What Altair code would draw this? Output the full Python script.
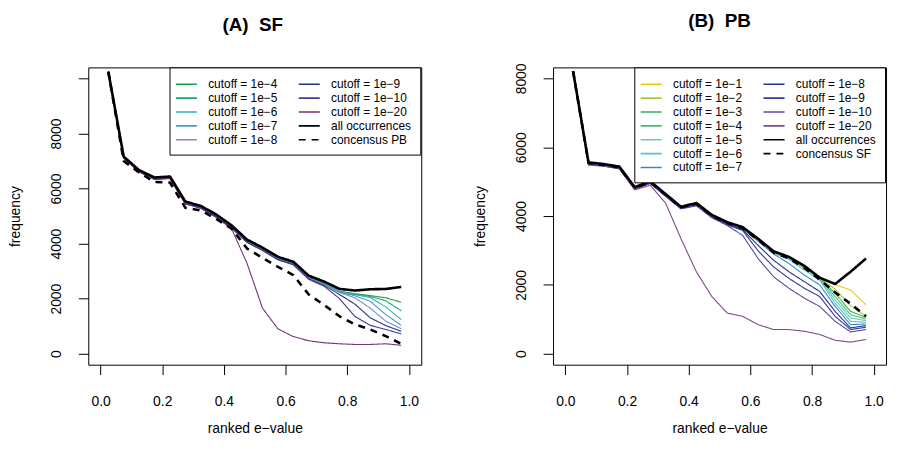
import altair as alt
import pandas as pd

# ---------------- data ----------------
x_vals = [0.025, 0.075, 0.125, 0.175, 0.225, 0.275, 0.325, 0.375, 0.425, 0.475,
          0.525, 0.575, 0.625, 0.675, 0.725, 0.775, 0.825, 0.875, 0.925, 0.975]

# Panel A (SF)
sf_series = ["cutoff = 1e\u22124", "cutoff = 1e\u22125", "cutoff = 1e\u22126", "cutoff = 1e\u22127",
             "cutoff = 1e\u22128", "cutoff = 1e\u22129", "cutoff = 1e\u221210", "cutoff = 1e\u221220",
             "concensus PB", "all occurrences"]
sf_colors = ["#1e9e4e", "#22a56c", "#30b5b2", "#4a98c8", "#7d8cc6", "#283180", "#473c8c", "#74337a",
             "black", "black"]
sf_1e4 = [10245, 7140, 6640, 6370, 6400, 5480, 5330, 5010, 4610, 4100, 3810, 3470, 3290, 2790, 2570, 2270, 2180, 2110, 2030, 1870]
sf_1e5 = [10245, 7135, 6635, 6365, 6395, 5475, 5320, 5000, 4600, 4090, 3800, 3460, 3280, 2780, 2560, 2260, 2160, 2080, 1920, 1560]
sf_1e6 = [10245, 7130, 6630, 6360, 6390, 5470, 5315, 4995, 4595, 4080, 3790, 3450, 3270, 2770, 2550, 2250, 2140, 2040, 1700, 1240]
sf_1e7 = [10245, 7125, 6625, 6355, 6385, 5465, 5310, 4990, 4590, 4070, 3780, 3440, 3260, 2760, 2530, 2240, 2100, 1900, 1420, 1030]
sf_1e8 = [10245, 7120, 6620, 6350, 6380, 5460, 5300, 4980, 4580, 4060, 3770, 3430, 3250, 2740, 2510, 2220, 2030, 1650, 1180, 910]
sf_1e9 = [10245, 7115, 6615, 6345, 6375, 5455, 5295, 4970, 4570, 4050, 3760, 3420, 3240, 2720, 2480, 2150, 1800, 1300, 1020, 815]
sf_1e10 = [10245, 7110, 6610, 6340, 6370, 5450, 5290, 4960, 4560, 4040, 3750, 3410, 3230, 2700, 2450, 2000, 1350, 1030, 880, 720]
sf_1e20 = [10245, 7100, 6600, 6330, 6360, 5440, 5280, 4950, 4540, 3280, 1656, 905, 620, 470, 396, 360, 336, 336, 360, 305]
sf_consensus = [10245, 7000, 6580, 6241, 6218, 5300, 5200, 4900, 4540, 3820, 3483, 3158, 2857, 2150, 1770, 1357, 1065, 877, 637, 360]
sf_all = [10245, 7158, 6666, 6401, 6437, 5525, 5369, 5056, 4660, 4143, 3855, 3519, 3339, 2834, 2618, 2354, 2294, 2342, 2350, 2426]
sf_values = [sf_1e4, sf_1e5, sf_1e6, sf_1e7, sf_1e8, sf_1e9, sf_1e10, sf_1e20, sf_consensus, sf_all]

# Panel B (PB)
pb_series = ["cutoff = 1e\u22121", "cutoff = 1e\u22122", "cutoff = 1e\u22123", "cutoff = 1e\u22124",
             "cutoff = 1e\u22125", "cutoff = 1e\u22126", "cutoff = 1e\u22127", "cutoff = 1e\u22128",
             "cutoff = 1e\u22129", "cutoff = 1e\u221210", "cutoff = 1e\u221220",
             "concensus SF", "all occurrences"]
pb_colors = ["#f5c400", "#a8cb3c", "#38ad5e", "#40bd7a", "#6ccd9e", "#4fc4d4", "#3a88c8", "#26338a",
             "#2e3b98", "#5a48a2", "#7c4a8c", "black", "black"]
pb_1e1 = [8211, 5545, 5495, 5420, 4825, 4995, 4620, 4255, 4360, 4015, 3805, 3660, 3320, 2960, 2795, 2535, 2200, 2010, 1850, 1420]
pb_1e2 = [8211, 5540, 5490, 5415, 4820, 4990, 4615, 4250, 4355, 4010, 3800, 3655, 3315, 2955, 2790, 2525, 2195, 1880, 1400, 1090]
pb_1e3 = [8211, 5535, 5485, 5410, 4815, 4985, 4610, 4245, 4350, 4005, 3795, 3650, 3310, 2950, 2785, 2515, 2190, 1757, 1229, 1056]
pb_1e4 = [8211, 5530, 5480, 5405, 4810, 4980, 4605, 4240, 4345, 4000, 3790, 3645, 3305, 2945, 2775, 2505, 2180, 1661, 1133, 1008]
pb_1e5 = [8211, 5525, 5475, 5400, 4805, 4975, 4600, 4235, 4340, 3995, 3785, 3640, 3300, 2935, 2760, 2490, 2170, 1565, 1037, 960]
pb_1e6 = [8211, 5520, 5470, 5395, 4800, 4970, 4595, 4230, 4335, 3990, 3780, 3635, 3290, 2930, 2740, 2430, 2142, 1469, 941, 912]
pb_1e7 = [8211, 5515, 5465, 5390, 4795, 4965, 4590, 4225, 4330, 3985, 3775, 3625, 3270, 2900, 2622, 2286, 1998, 1373, 845, 864]
pb_1e8 = [8211, 5510, 5460, 5385, 4790, 4960, 4585, 4220, 4320, 3975, 3760, 3600, 3150, 2718, 2382, 2094, 1806, 1229, 749, 816]
pb_1e9 = [8211, 5505, 5455, 5380, 4785, 4955, 4580, 4215, 4310, 3965, 3745, 3580, 2990, 2526, 2190, 1902, 1661, 1085, 701, 768]
pb_1e10 = [8211, 5500, 5450, 5375, 4780, 4950, 4575, 4210, 4300, 3950, 3726, 3438, 2766, 2238, 1902, 1614, 1373, 941, 634, 701]
pb_1e20 = [8211, 5480, 5450, 5377, 4762, 4897, 4379, 3341, 2380, 1661, 1181, 1085, 845, 701, 701, 653, 557, 390, 336, 413]
pb_consensus = [8211, 5540, 5490, 5415, 4820, 4990, 4620, 4255, 4355, 4010, 3800, 3650, 3310, 2940, 2770, 2500, 2150, 1780, 1450, 1090]
pb_all = [8211, 5560, 5510, 5436, 4840, 5013, 4639, 4270, 4379, 4034, 3822, 3678, 3342, 2977, 2814, 2555, 2209, 2026, 2382, 2766]
pb_values = [pb_1e1, pb_1e2, pb_1e3, pb_1e4, pb_1e5, pb_1e6, pb_1e7, pb_1e8, pb_1e9, pb_1e10, pb_1e20,
             pb_consensus, pb_all]

x_ticks = [0.0, 0.2, 0.4, 0.6, 0.8, 1.0]
sf_y_ticks = [0, 2000, 4000, 6000, 8000, 10000]
pb_y_ticks = [0, 2000, 4000, 6000, 8000]

FONT = "Liberation Sans"


def long_df(names, values):
    rows = []
    for n, vals in zip(names, values):
        for i, (xv, yv) in enumerate(zip(x_vals, vals)):
            rows.append({"series": n, "x": xv, "y": yv, "i": i})
    return pd.DataFrame(rows)


def panel(names, values, colors, ydomain, yticks, title, title_dx):
    df = long_df(names, values)
    cutoffs = [n for n in names if n.startswith("cutoff")]
    cons = [n for n in names if n.startswith("concensus")]
    legend_order = cutoffs + ["all occurrences"] + cons  # column-major fill
    cmap = dict(zip(names, colors))
    col_range = [cmap[n] for n in legend_order]
    dash_range = [[7, 6] if n.startswith("concensus") else [1, 0] for n in legend_order]
    leg = alt.Legend(orient="none", legendX=82, legendY=0, columns=2, title=None,
                     strokeColor="black", fillColor="white", padding=9, cornerRadius=0,
                     symbolType="M-1.5,0H1.5", symbolSize=200, labelFont=FONT, labelFontSize=12,
                     labelColor="black", rowPadding=0, columnPadding=18, labelOffset=14,
                     labelLimit=200, symbolStrokeWidth=1.6)
    base = alt.Chart(df).encode(
        x=alt.X("x:Q", scale=alt.Scale(domain=[-0.04, 1.04], nice=False, zero=False),
                axis=alt.Axis(values=x_ticks, format=".1f", title="ranked e\u2212value")),
        y=alt.Y("y:Q", scale=alt.Scale(domain=ydomain, nice=False, zero=False),
                axis=alt.Axis(values=yticks, format="d", title="frequency",
                              labelAngle=270, labelAlign="center", labelBaseline="middle",
                              labelExpr="datum.value > 9000 ? '' : datum.label")),
        color=alt.Color("series:N", scale=alt.Scale(domain=legend_order, range=col_range), legend=leg),
        strokeDash=alt.StrokeDash("series:N", scale=alt.Scale(domain=legend_order, range=dash_range),
                                  legend=leg),
        order=alt.Order("i:Q"),
    )
    thin = base.transform_filter("indexof(datum.series, 'cutoff') == 0").mark_line(
        strokeWidth=1.1, strokeJoin="round")
    dashed = base.transform_filter("indexof(datum.series, 'concensus') == 0").mark_line(
        strokeWidth=2.6, strokeJoin="round")
    solid = base.transform_filter("datum.series == 'all occurrences'").mark_line(
        strokeWidth=2.6, strokeJoin="round")
    chart = alt.layer(thin, dashed, solid).properties(
        width=336, height=300,
        view=alt.ViewBackground(stroke="black", strokeWidth=1),
        title=alt.TitleParams(title, fontSize=19, fontWeight="bold", font=FONT, anchor="middle",
                              frame="group", baseline="alphabetic", offset=17, dx=title_dx,
                              color="black"),
    )
    return chart


left = panel(sf_series, sf_values, sf_colors, [-400, 10400], sf_y_ticks, "(A)\u00a0\u00a0SF", -2)
right = panel(pb_series, pb_values, pb_colors, [-320, 8320], pb_y_ticks, "(B)\u00a0\u00a0PB", 0)

chart = alt.hconcat(left, right, spacing=51).resolve_scale(
    color="independent", strokeDash="independent", x="independent", y="independent"
).resolve_legend(
    color="independent", strokeDash="independent"
).properties(
    padding={"left": 0, "top": 2, "right": 2, "bottom": -2}
).configure_view(
    stroke="black", strokeWidth=1
).configure_axis(
    labelFont=FONT, titleFont=FONT, labelFontSize=14, titleFontSize=14, titleFontWeight="normal",
    labelColor="black", titleColor="black", tickColor="black", tickSize=10, tickWidth=1,
    domain=False, grid=False,
).configure_axisX(
    labelPadding=20.5, titlePadding=13
).configure_axisY(
    labelPadding=22, titlePadding=27
)

chart.save("out.html", embed_options={"renderer": "svg", "actions": False})
